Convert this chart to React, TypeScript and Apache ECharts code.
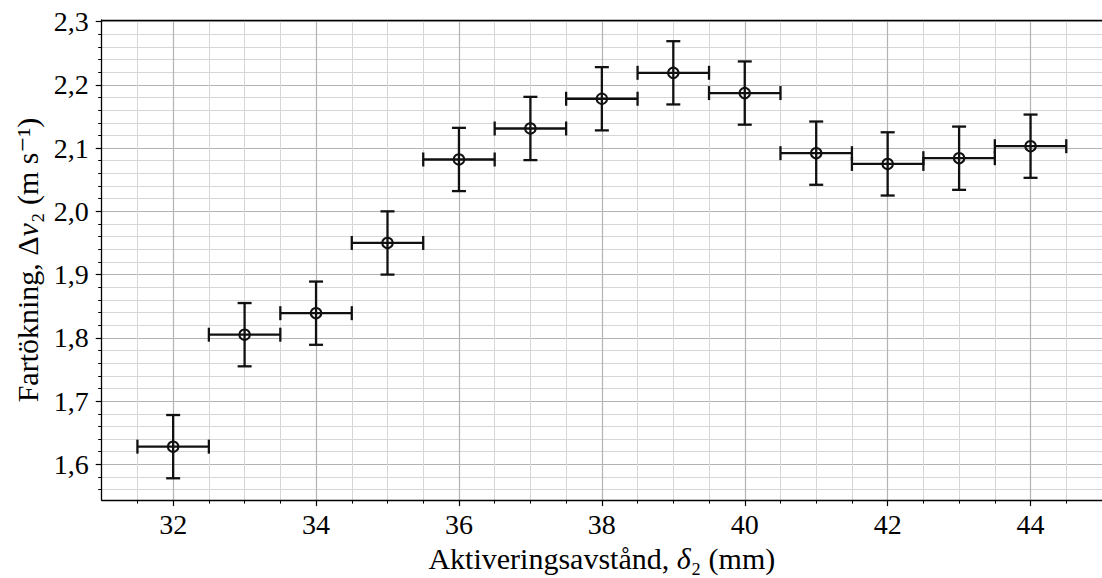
import React, { useEffect, useRef } from "react";
import * as echarts from "echarts";

// Data
const distances = [32, 33, 34, 35, 36, 37, 38, 39, 40, 41, 42, 43, 44];
const speedGain = [1.628, 1.805, 1.839, 1.950, 2.082, 2.131, 2.178, 2.219, 2.187, 2.092, 2.075, 2.084, 2.103];
const xErrors = [0.5, 0.5, 0.5, 0.5, 0.5, 0.5, 0.5, 0.5, 0.5, 0.5, 0.5, 0.5, 0.5];
const yErrors = [0.05, 0.05, 0.05, 0.05, 0.05, 0.05, 0.05, 0.05, 0.05, 0.05, 0.05, 0.05, 0.05];
const xTickValues = [32, 34, 36, 38, 40, 42, 44];
const yTickValues = [1.6, 1.7, 1.8, 1.9, 2.0, 2.1, 2.2, 2.3];

const FONT = "'Liberation Serif', 'DejaVu Serif', serif";
const INK = "#111111";
const FS = 28;
const NAME_FS = 30;

export default function App() {
  const ref = useRef<HTMLDivElement>(null);

  useEffect(() => {
    if (!ref.current) return;
    const chart = echarts.init(ref.current, null, { renderer: "svg" });

    const data = distances.map((d, i) => [d, speedGain[i], xErrors[i], yErrors[i]]);
    const fmt = (v: number) => v.toFixed(1).replace(".", ",");
    const fmtInt = (v: number) => String(Math.round(v));

    const majorGrid = { color: "#b3b3b3", width: 1.2 };
    const minorGrid = { color: "#d6d6d6", width: 1 };

    chart.setOption({
      animation: false,
      backgroundColor: "#ffffff",
      grid: { left: 101.7, right: -7.7, top: 20, bottom: 75, containLabel: false },
      xAxis: [
        {
          type: "value",
          position: "bottom",
          min: 31,
          max: 45,
          splitNumber: 7,
          name: "Aktiveringsavstånd, {it|δ}₂ (mm)",
          nameLocation: "middle",
          nameGap: 35,
          nameTextStyle: {
            fontFamily: FONT,
            fontSize: NAME_FS,
            color: "#000",
            rich: { it: { fontFamily: FONT, fontSize: NAME_FS, fontStyle: "italic", color: "#000" } },
          },
          axisLine: { show: true, onZero: false, lineStyle: { color: "#000", width: 1.3 } },
          axisTick: { show: true, length: 6, customValues: xTickValues, lineStyle: { color: "#000", width: 1.2 } },
          minorTick: { show: true, splitNumber: 4, length: 3.5, lineStyle: { color: "#000", width: 1 } },
          axisLabel: {
            customValues: xTickValues,
            formatter: fmtInt,
            fontFamily: FONT,
            fontSize: FS,
            color: "#000",
            margin: 10,
          },
          splitLine: { show: true, lineStyle: majorGrid },
          minorSplitLine: { show: true, lineStyle: minorGrid },
        },
        {
          type: "value",
          position: "top",
          min: 31,
          max: 45,
          axisLine: { show: true, onZero: false, lineStyle: { color: "#000", width: 1.3 } },
          axisTick: { show: false },
          axisLabel: { show: false },
          splitLine: { show: false },
        },
      ],
      yAxis: [
        {
          type: "value",
          min: 1.5435,
          max: 2.3025,
          splitNumber: 7,
          name: "Fartökning, Δ{it|v}₂ (m s⁻¹)",
          nameLocation: "middle",
          nameRotate: 90,
          nameGap: 57,
          nameTextStyle: {
            fontFamily: FONT,
            fontSize: NAME_FS,
            color: "#000",
            rich: { it: { fontFamily: FONT, fontSize: NAME_FS, fontStyle: "italic", color: "#000" } },
          },
          axisLine: { show: true, onZero: false, lineStyle: { color: "#000", width: 1.3 } },
          axisTick: { show: true, length: 6, customValues: yTickValues, lineStyle: { color: "#000", width: 1.2 } },
          minorTick: { show: true, splitNumber: 5, length: 3.5, lineStyle: { color: "#000", width: 1 } },
          axisLabel: {
            customValues: yTickValues,
            formatter: fmt,
            fontFamily: FONT,
            fontSize: FS,
            color: "#000",
            margin: 13,
          },
          splitLine: { show: true, lineStyle: majorGrid },
          minorSplitLine: { show: true, lineStyle: minorGrid },
        },
      ],
      series: [
        {
          type: "custom",
          xAxisIndex: 0,
          yAxisIndex: 0,
          data,
          encode: { x: 0, y: 1 },
          renderItem: (params: any, api: any) => {
            const x = api.value(0);
            const y = api.value(1);
            const ex = api.value(2);
            const ey = api.value(3);
            const c = api.coord([x, y]);
            const l = api.coord([x - ex, y]);
            const r = api.coord([x + ex, y]);
            const t = api.coord([x, y + ey]);
            const b = api.coord([x, y - ey]);
            const cap = 7;
            const st = { stroke: INK, lineWidth: 2.3, fill: "none" };
            const ln = (x1: number, y1: number, x2: number, y2: number) => ({
              type: "line",
              shape: { x1, y1, x2, y2 },
              style: st,
            });
            return {
              type: "group",
              children: [
                ln(l[0], l[1], r[0], r[1]),
                ln(t[0], t[1], b[0], b[1]),
                ln(l[0], l[1] - cap, l[0], l[1] + cap),
                ln(r[0], r[1] - cap, r[0], r[1] + cap),
                ln(t[0] - cap, t[1], t[0] + cap, t[1]),
                ln(b[0] - cap, b[1], b[0] + cap, b[1]),
                {
                  type: "circle",
                  shape: { cx: c[0], cy: c[1], r: 5.2 },
                  style: { stroke: INK, lineWidth: 2, fill: "none" },
                },
              ],
            };
          },
          z: 10,
        },
      ],
    });

    return () => chart.dispose();
  }, []);

  return (
    <div
      ref={ref}
      style={{ position: "absolute", left: 0, top: 0, width: 1102, height: 578, background: "#fff" }}
    />
  );
}
